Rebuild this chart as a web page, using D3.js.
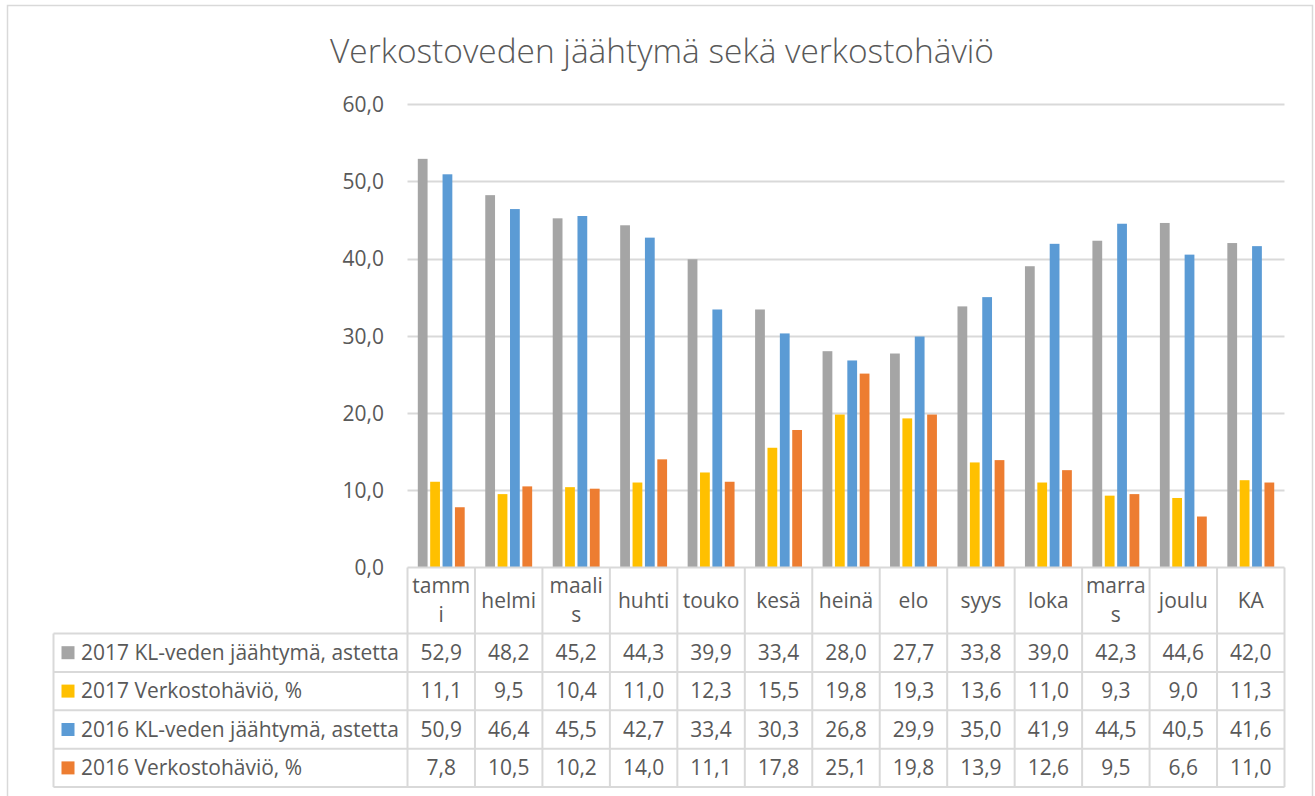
<!DOCTYPE html>
<html><head><meta charset="utf-8">
<script src="https://cdn.jsdelivr.net/npm/d3@7"></script>
<style>body{margin:0;background:#fff}svg{display:block}</style>
</head><body>
<script>
const categories = ["tammi","helmi","maalis","huhti","touko","kesä","heinä","elo","syys","loka","marras","joulu","KA"];
const headerLabels = [["tamm","i"],["helmi"],["maali","s"],["huhti"],["touko"],["kesä"],["heinä"],["elo"],["syys"],["loka"],["marra","s"],["joulu"],["KA"]];
const seriesNames = ["2017 KL-veden jäähtymä, astetta","2017 Verkostohäviö, %","2016 KL-veden jäähtymä, astetta","2016 Verkostohäviö, %"];
const s2017Jaahtyma = [52.9,48.2,45.2,44.3,39.9,33.4,28.0,27.7,33.8,39.0,42.3,44.6,42.0];
const s2017Havio = [11.1,9.5,10.4,11.0,12.3,15.5,19.8,19.3,13.6,11.0,9.3,9.0,11.3];
const s2016Jaahtyma = [50.9,46.4,45.5,42.7,33.4,30.3,26.8,29.9,35.0,41.9,44.5,40.5,41.6];
const s2016Havio = [7.8,10.5,10.2,14.0,11.1,17.8,25.1,19.8,13.9,12.6,9.5,6.6,11.0];
const seriesColors = ["#A5A5A5","#FFC000","#5B9BD5","#ED7D31"];
const yTicks = [0,10,20,30,40,50,60];
const titleText = "Verkostoveden jäähtymä sekä verkostohäviö";

const series = [s2017Jaahtyma, s2017Havio, s2016Jaahtyma, s2016Havio];
const W = 1315, H = 796;
const FONT = "'Open Sans', 'Noto Sans', sans-serif";
const TXT = "#595959", GRID = "#D9D9D9";

const svg = d3.select("body").append("svg").attr("width", W).attr("height", H);
svg.append("rect").attr("x",7.5).attr("y",5.5).attr("width",1305).attr("height",H+10)
  .attr("fill","#fff").attr("stroke",GRID).attr("stroke-width",1.5);

// fit a font size so that a text reaches a target width
function fitSize(text, target, weight){
  const t = svg.append("text").attr("font-family",FONT).attr("font-size",100).attr("font-weight",weight||400).text(text);
  const w = t.node().getComputedTextLength();
  t.remove();
  return 100*target/w;
}
const titleSize = fitSize(titleText, 664, 300);
const bodySize = fitSize(seriesNames[0], 318);

svg.append("text").attr("x",662).attr("y",63).attr("text-anchor","middle")
  .attr("font-family",FONT).attr("font-weight",300).attr("font-size",titleSize).attr("fill",TXT).text(titleText);

const x0 = d3.scaleBand().domain(categories).range([407.5,1284.5]).paddingInner(0).paddingOuter(0);
const x1 = d3.scaleBand().domain(d3.range(4)).range([10.3,57.2]).paddingInner(0.21).paddingOuter(0);
const y = d3.scaleLinear().domain([0,60]).range([567.5,104]);

// gridlines
const g = svg.append("g");
g.selectAll("line.grid").data(yTicks.filter(d=>d>0)).join("line")
  .attr("x1",407.5).attr("x2",1284.5).attr("y1",d=>Math.round(y(d))+0.5).attr("y2",d=>Math.round(y(d))+0.5)
  .attr("stroke",GRID).attr("stroke-width",2);

// y axis labels
const yAxis = d3.axisLeft(y).tickValues(yTicks).tickSize(0).tickPadding(0)
  .tickFormat(d=>d3.format(".1f")(d).replace(".",","));
const ya = svg.append("g").attr("transform","translate(384,0)").call(yAxis);
ya.select(".domain").remove();
ya.selectAll("text").attr("font-family",FONT).attr("font-size",bodySize).attr("fill",TXT).attr("dy","0.35em");

// bars
const groups = svg.append("g").selectAll("g").data(categories).join("g")
  .attr("transform",d=>`translate(${x0(d)},0)`);
groups.selectAll("rect").data((c,i)=>series.map((s,k)=>({k,v:s[i]}))).join("rect")
  .attr("x",d=>x1(d.k)).attr("width",x1.bandwidth())
  .attr("y",d=>y(d.v)).attr("height",d=>y(0)-y(d.v))
  .attr("fill",d=>seriesColors[d.k]);

// data table
const rowTops = [567.5,633.5];
const rowH = 38.4;
for (let r=1;r<=4;r++) rowTops.push(633.5+r*rowH);
const tableLeft = 53.5, labelRight = 407.5, tableRight = 1284.5;
const tg = svg.append("g");
const step = x0.step();
const line = (a,b,c,d)=>tg.append("line").attr("x1",a).attr("x2",b).attr("y1",c).attr("y2",d).attr("stroke",GRID).attr("stroke-width",2);
line(labelRight,tableRight,rowTops[0],rowTops[0]);
for (let r=1;r<rowTops.length;r++) line(tableLeft,tableRight,rowTops[r],rowTops[r]);
line(tableLeft,tableLeft,rowTops[1],rowTops[5]);
for (let i=0;i<=categories.length;i++){ const xx = 407.5 + i*step; line(xx,xx,rowTops[0],rowTops[5]); }

// header labels
categories.forEach((c,i)=>{
  const lines = headerLabels[i];
  const cx = x0(c)+step/2;
  const cy = (rowTops[0]+rowTops[1])/2;
  const lh = 29;
  lines.forEach((t,j)=>{
    tg.append("text").attr("x",cx).attr("y",cy + (j-(lines.length-1)/2)*lh).attr("dy","0.35em")
      .attr("text-anchor","middle").attr("font-family",FONT).attr("font-size",bodySize).attr("fill",TXT).text(t);
  });
});
// rows
const fmt = v=>d3.format(".1f")(v).replace(".",",");
seriesNames.forEach((name,k)=>{
  const cy = (rowTops[k+1]+rowTops[k+2])/2;
  tg.append("rect").attr("x",61.5).attr("y",cy-6.5).attr("width",13).attr("height",13).attr("fill",seriesColors[k]);
  tg.append("text").attr("x",81).attr("y",cy).attr("dy","0.35em").attr("font-family",FONT).attr("font-size",bodySize).attr("fill",TXT).text(name);
  categories.forEach((c,i)=>{
    tg.append("text").attr("x",x0(c)+step/2).attr("y",cy).attr("dy","0.35em").attr("text-anchor","middle")
      .attr("font-family",FONT).attr("font-size",bodySize).attr("fill",TXT).text(fmt(series[k][i]));
  });
});
</script>
</body></html>
